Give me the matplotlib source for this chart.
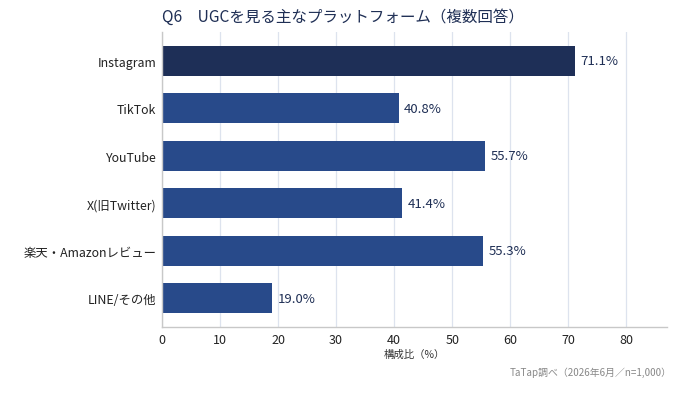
import matplotlib.pyplot as plt
import numpy as np

plt.rcParams['font.family'] = ['Noto Sans CJK JP', 'DejaVu Sans']

platforms = ["Instagram", "TikTok", "YouTube", "X(旧Twitter)", "楽天・Amazonレビュー", "LINE/その他"]
shares = [71.1, 40.8, 55.7, 41.4, 55.3, 19.0]
xticks = [0, 10, 20, 30, 40, 50, 60, 70, 80]

navy = "#1e2f57"
blue = "#284a8a"
text_navy = "#1f2f55"

fig = plt.figure(figsize=(6.74, 4.10), dpi=100)
ax = fig.add_axes([162 / 674, 1 - 328 / 410, (667 - 162) / 674, (328 - 33) / 410])

y = np.arange(len(platforms))
colors = [navy] + [blue] * (len(platforms) - 1)
ax.barh(y, shares, height=0.63, color=colors, zorder=2)

for yi, v in zip(y, shares):
    ax.text(v + 0.9, yi, f"{v:.1f}%", va="center", ha="left", fontsize=9.5, color=text_navy)

ax.set_ylim(len(platforms) - 0.4, -0.6)
ax.set_xlim(0, 87)
ax.set_yticks(y)
ax.set_yticklabels(platforms, fontsize=8.9, color="#222222")
ax.set_xticks(xticks)
ax.set_xticklabels([str(t) for t in xticks], fontsize=9, color="#222222")
ax.tick_params(axis="y", length=0, pad=4)
ax.tick_params(axis="x", length=0, pad=4)

ax.grid(axis="x", color="#dde3ee", linewidth=0.9, zorder=0)
for s in ["top", "right"]:
    ax.spines[s].set_visible(False)
for s in ["left", "bottom"]:
    ax.spines[s].set_color("#c8c8c8")
    ax.spines[s].set_linewidth(1.0)

ax.set_xlabel("構成比（%）", fontsize=7.5, color="#333333", labelpad=2)

fig.text(162 / 674, 1 - 17 / 410, "Q6\u3000UGCを見る主なプラットフォーム（複数回答）",
         fontsize=11.2, color=text_navy, va="center", ha="left")
fig.text(672 / 674, 1 - 373 / 410, "TaTap調べ（2026年6月／n=1,000）",
         fontsize=7.1, color="#888888", va="center", ha="right")

fig.savefig("out.png", dpi=100)
